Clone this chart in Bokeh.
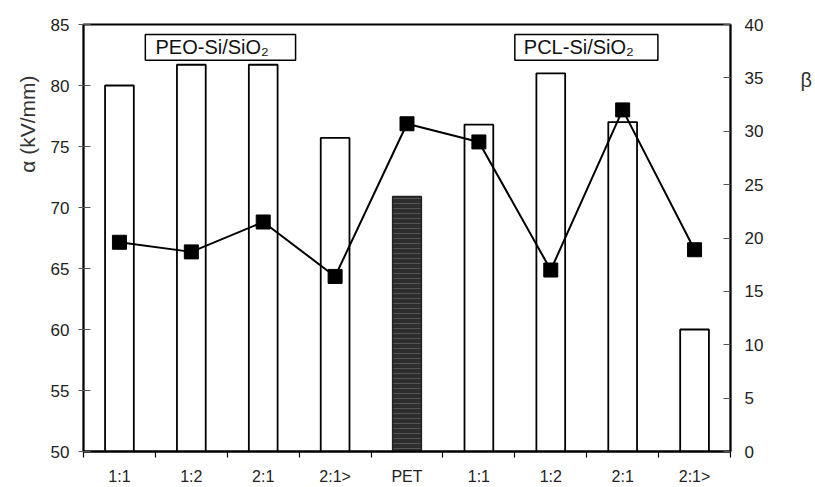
from bokeh.plotting import figure
from bokeh.models import Range1d, LinearAxis, FixedTicker, Label, BoxAnnotation, Title
from bokeh.embed import file_html
from bokeh.resources import INLINE

categories = ["1:1", "1:2", "2:1", "2:1>", "PET", "1:1", "1:2", "2:1", "2:1>"]
alpha_vals = [80.0, 81.7, 81.7, 75.7, 70.9, 76.8, 81.0, 77.0, 60.0]
beta_vals = [19.6, 18.7, 21.5, 16.4, 30.7, 29.0, 17.0, 32.0, 18.9]
left_ticks = [50, 55, 60, 65, 70, 75, 80, 85]
right_ticks = [0, 5, 10, 15, 20, 25, 30, 35, 40]
group_names = ["PEO-Si/SiO₂", "PCL-Si/SiO₂"]

n = len(categories)
xs = [i + 0.5 for i in range(n)]
open_x = [x for x, c in zip(xs, categories) if c != "PET"]
open_top = [a for a, c in zip(alpha_vals, categories) if c != "PET"]
pet_x = [x for x, c in zip(xs, categories) if c == "PET"]
pet_top = [a for a, c in zip(alpha_vals, categories) if c == "PET"]

FONT = "Liberation Sans"

p = figure(width=815, height=487, output_backend="svg", toolbar_location=None,
           x_range=Range1d(0, n), y_range=Range1d(50, 85),
           min_border_left=83, min_border_right=83, min_border_top=24, min_border_bottom=35)
p.extra_y_ranges = {"beta": Range1d(0, 40)}
p.xgrid.visible = False
p.ygrid.visible = False
p.outline_line_color = "black"
p.outline_line_width = 1.8
p.background_fill_color = "white"
p.border_fill_color = "white"

p.vbar(x=open_x, top=open_top, bottom=50, width=0.4, fill_color="white",
       line_color="black", line_width=1.8)
p.vbar(x=pet_x, top=pet_top, bottom=50, width=0.4, fill_color="#2e2e2e",
       line_color="#222222", line_width=1.5, hatch_pattern="horizontal_line",
       hatch_color="#555555", hatch_scale=5, hatch_weight=1)

p.line(xs, beta_vals, y_range_name="beta", line_color="black", line_width=2)
p.scatter(xs, beta_vals, y_range_name="beta", marker="square", size=14,
          fill_color="black", line_color="black")

# x axis
xa = p.xaxis[0]
xa.ticker = FixedTicker(ticks=xs, minor_ticks=list(range(n + 1)))
xa.major_label_overrides = {x: c for x, c in zip(xs, categories)}
xa.major_tick_out = 0
xa.major_tick_in = 0
xa.minor_tick_out = 6
xa.minor_tick_in = 0
xa.minor_tick_line_color = "black"
xa.minor_tick_line_width = 1.2
xa.axis_line_color = "black"
xa.axis_line_width = 1.8
xa.major_label_standoff = 10
xa.major_label_text_font = FONT
xa.major_label_text_font_size = "16px"
xa.major_label_text_color = "#222222"

# left axis
ya = p.yaxis[0]
ya.ticker = FixedTicker(ticks=left_ticks)
ya.major_tick_out = 5
ya.major_tick_in = 7
ya.minor_tick_out = 0
ya.minor_tick_in = 0
ya.major_tick_line_color = "#555555"
ya.axis_line_color = "black"
ya.axis_line_width = 1.8
ya.major_label_standoff = 9
ya.major_label_text_font = FONT
ya.major_label_text_font_size = "17px"
ya.major_label_text_color = "#222222"

# right axis
ra = LinearAxis(y_range_name="beta", ticker=FixedTicker(ticks=right_ticks))
ra.major_tick_out = 0
ra.major_tick_in = 7
ra.minor_tick_out = 0
ra.minor_tick_in = 0
ra.major_tick_line_color = "#555555"
ra.axis_line_color = "black"
ra.axis_line_width = 1.8
ra.major_label_standoff = 14
ra.major_label_text_font = FONT
ra.major_label_text_font_size = "17px"
ra.major_label_text_color = "#222222"
p.add_layout(ra, "right")

# left title: alpha, placed toward the top of the axis
p.add_layout(Title(text="α (kV/mm)", align="right", offset=51, standoff=14,
                   vertical_align="top",
                   text_font=FONT, text_font_size="21px", text_font_style="normal",
                   text_color="#333333"), "left")

# right title: beta, held by an invisible axis (horizontal), lifted with blank lines
beta_label = "β" + "\n" * 12
bax = LinearAxis(y_range_name="beta", ticker=FixedTicker(ticks=[]),
                 axis_label=beta_label, axis_label_standoff=34,
                 axis_label_orientation="horizontal",
                 axis_label_text_font=FONT, axis_label_text_font_size="20px",
                 axis_label_text_font_style="normal", axis_label_text_color="#333333",
                 axis_line_color=None, major_tick_line_color=None,
                 minor_tick_line_color=None, major_tick_out=0, major_tick_in=0,
                 minor_tick_out=0, minor_tick_in=0, major_label_standoff=0)
p.add_layout(bax, "right")

# group label boxes
for left, right in [(0.86, 2.95), (6.0, 7.99)]:
    p.add_layout(BoxAnnotation(left=left, right=right, bottom=82.06, top=84.18,
                               fill_color="white", fill_alpha=1, line_color="black",
                               line_alpha=1, line_width=1.5))
p.add_layout(Label(x=1.79, y=83.12, text=group_names[0], text_align="center",
                   text_baseline="middle", text_font=FONT, text_font_size="20px",
                   text_color="#111111"))
p.add_layout(Label(x=6.89, y=83.12, text=group_names[1], text_align="center",
                   text_baseline="middle", text_font=FONT, text_font_size="20px",
                   text_color="#111111"))

open("out.html", "w").write(file_html(p, INLINE))
